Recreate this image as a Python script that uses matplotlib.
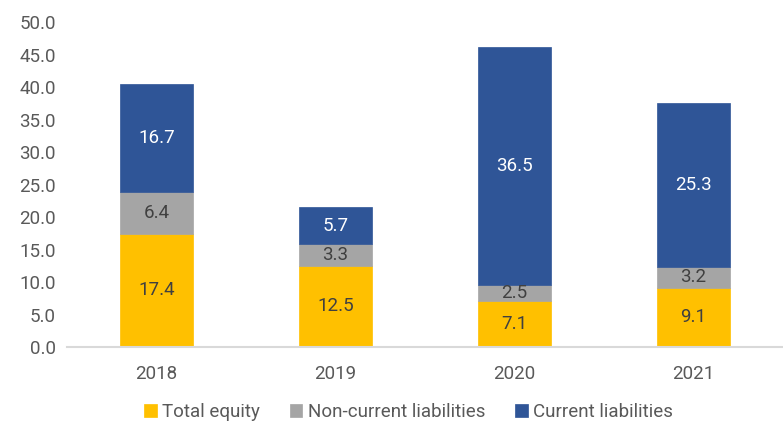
import matplotlib
matplotlib.use("Agg")
import matplotlib.pyplot as plt
import numpy as np

plt.rcParams['font.family'] = ['Roboto', 'DejaVu Sans']

years = ["2018", "2019", "2020", "2021"]
total_equity = [17.4, 12.5, 7.1, 9.1]
non_current = [6.4, 3.3, 2.5, 3.2]
current = [16.7, 5.7, 36.5, 25.3]
yticks = [0, 5, 10, 15, 20, 25, 30, 35, 40, 45, 50]

colors = ["#FFC000", "#A5A5A5", "#2F5597"]
names = ["Total equity", "Non-current liabilities", "Current liabilities"]
txt = "#595959"
fs = 13.5

fig = plt.figure(figsize=(7.83, 4.25), dpi=100)
ax = fig.add_axes([0.0856, 0.1835, 0.9144, 0.7645])

x = np.arange(len(years))
w = 0.41
bottom = np.zeros(len(years))
handles = []
for vals, c, n in zip([total_equity, non_current, current], colors, names):
    b = ax.bar(x, vals, w, bottom=bottom, color=c, label=n, edgecolor=c, linewidth=0.5)
    handles.append(b)
    for xi, v, bt in zip(x, vals, bottom):
        tc = "white" if c == "#2F5597" else "#404040"
        ax.text(xi, bt + v / 2, f"{v:.1f}", ha="center", va="center", fontsize=fs, color=tc)
    bottom = bottom + np.array(vals)

ax.set_xlim(-0.5, len(years) - 0.5)
ax.set_ylim(0, 50)
ax.set_yticks(yticks)
ax.set_yticklabels([f"{t:.1f}" for t in yticks])
ax.set_xticks(x)
ax.set_xticklabels(years)
ax.tick_params(axis="both", length=0, labelsize=fs, colors=txt)
ax.tick_params(axis="x", pad=13)
ax.tick_params(axis="y", pad=8)
for s in ["top", "right", "left"]:
    ax.spines[s].set_visible(False)
ax.spines["bottom"].set_color("#D9D9D9")
ax.spines["bottom"].set_linewidth(1.5)

leg = fig.legend(handles=handles, labels=names, loc="center", bbox_to_anchor=(0.522, 0.03),
                 ncol=3, frameon=False, fontsize=fs, handlelength=0.65, handleheight=0.65,
                 handletextpad=0.3, columnspacing=1.6)
for t in leg.get_texts():
    t.set_color(txt)

fig.savefig("out.png", dpi=100)
